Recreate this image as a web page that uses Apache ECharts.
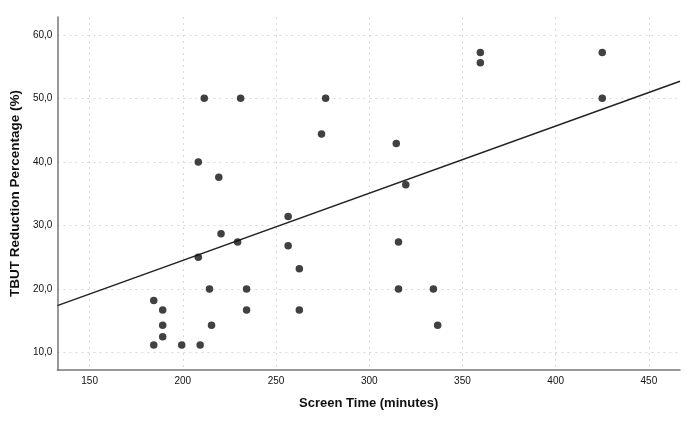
<!DOCTYPE html>
<html>
<head>
<meta charset="utf-8">
<script src="https://cdn.jsdelivr.net/npm/echarts@6/dist/echarts.min.js"></script>
<style>
  html, body { margin: 0; padding: 0; background: #fff; }
  #chart { width: 693px; height: 428px; }
</style>
</head>
<body>
<div id="chart"></div>
<script>
// screen time (minutes) vs TBUT reduction (%)
var screenTime = [211.5, 231, 208.3, 219.3, 276.6, 274.4, 314.5, 319.6, 256.5, 359.6, 359.6, 425, 425,
  184.4, 189.2, 189.2, 189.2, 184.4, 199.4, 209.3, 208.3, 214.3, 215.4, 220.5, 229.4, 256.5, 262.5,
  234.2, 234.2, 262.5, 315.7, 315.7, 334.4, 336.7];
var tbutReduction = [50, 50, 40, 37.6, 50, 44.4, 42.9, 36.4, 31.4, 57.2, 55.6, 57.2, 50,
  18.2, 16.7, 14.3, 12.5, 11.2, 11.2, 11.2, 25, 20, 14.3, 28.7, 27.4, 26.8, 23.2,
  20, 16.7, 16.7, 27.4, 20, 20, 14.3];
// fit line end points
var fitX = [132.7, 466.7];
var fitY = [17.4, 52.7];

var points = screenTime.map(function (x, i) { return [x, tbutReduction[i]]; });
var fitLine = fitX.map(function (x, i) { return [x, fitY[i]]; });

var myChart = echarts.init(document.getElementById('chart'));
var option = {
  backgroundColor: '#fff',
  animation: false,
  grid: { left: 54, top: 17, right: 13, bottom: 58 },
  xAxis: {
    type: 'value',
    min: 132.7,
    max: 466.7,
    splitNumber: 6,
    name: 'Screen Time (minutes)',
    nameLocation: 'middle',
    nameGap: 27,
    nameTextStyle: { fontFamily: 'Liberation Sans', fontWeight: 'bold', fontSize: 13, color: '#111' },
    axisLine: { lineStyle: { color: '#777', width: 1.5 } },
    axisTick: { show: false },
    axisLabel: {
      margin: 6,
      fontFamily: 'Liberation Sans', fontSize: 10, color: '#111',
      formatter: function (v) { return v % 50 === 0 ? String(v) : ''; }
    },
    splitLine: {
      show: true, showMinLine: false, showMaxLine: false,
      lineStyle: { color: '#d8d8d8', type: [2, 4], width: 1 }
    }
  },
  yAxis: {
    type: 'value',
    min: 7.27,
    max: 62.8,
    splitNumber: 5,
    name: 'TBUT Reduction Percentage (%)',
    nameLocation: 'middle',
    nameGap: 31,
    nameTextStyle: { fontFamily: 'Liberation Sans', fontWeight: 'bold', fontSize: 13.5, color: '#111' },
    axisLine: { show: true, lineStyle: { color: '#777', width: 1.5 } },
    axisTick: { show: false },
    axisLabel: {
      margin: 5,
      fontFamily: 'Liberation Sans', fontSize: 10, color: '#111',
      formatter: function (v) { return v % 10 === 0 ? v.toFixed(1).replace('.', ',') : ''; }
    },
    splitLine: {
      show: true, showMinLine: false, showMaxLine: false,
      lineStyle: { color: '#d8d8d8', type: [2, 4], width: 1 }
    }
  },
  series: [
    {
      type: 'line',
      data: fitLine,
      showSymbol: false,
      lineStyle: { color: '#222', width: 1.5 },
      z: 2
    },
    {
      type: 'scatter',
      data: points,
      symbolSize: 7.5,
      itemStyle: { color: '#111' },
      z: 3
    }
  ]
};
myChart.setOption(option);
</script>
</body>
</html>
